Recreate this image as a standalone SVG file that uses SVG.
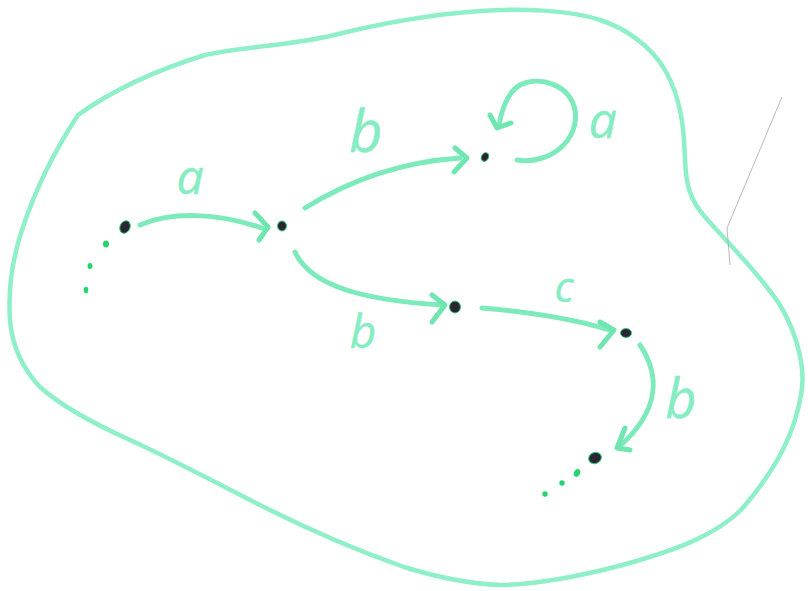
<svg xmlns="http://www.w3.org/2000/svg" width="808" height="591" viewBox="0 0 808 591">
<style>
.outline{fill:none;stroke:#8eefc8;stroke-width:4.5;stroke-linecap:round;stroke-linejoin:round}
.edge{fill:none;stroke:#7deabc;stroke-width:5;stroke-linecap:round;stroke-linejoin:round}
.head{fill:none;stroke:#6fe6b0;stroke-width:5;stroke-linecap:round;stroke-linejoin:round}
.lbl{font-family:"Open Sans","DejaVu Sans",sans-serif;font-style:italic;fill:#86ecc2;stroke:#86ecc2;stroke-width:0.4;text-anchor:middle}
.node{fill:#2b2433;stroke:#38c978;stroke-width:1}
.dot{fill:#26d46f}
</style>
<rect width="808" height="591" fill="#ffffff"/>
<path class="outline" d="M78,115 C110,92 150,72 205,55 C240,47 285,46 330,36 C370,26 420,15 480,11 C520,8 570,10 600,20 C625,28 650,45 665,70 C682,100 684,130 685,160 C686,185 690,200 705,217 C730,245 760,275 780,305 C798,335 806,370 801,395 C795,430 780,465 741,510 C715,535 680,548 640,560 C600,572 540,585 500,585 C470,584 440,578 404,567 C370,555 320,535 270,510 C230,490 170,458 130,440 C90,422 60,405 40,387 C22,368 12,345 10,320 C8,290 12,260 22,230 C35,190 55,150 78,115 Z"/>
<path d="M782,97 L727,228 L730,265" fill="none" stroke="#a8a8a8" stroke-width="0.8"/>
<g id="connectors">
  <g id="e-a1"><path class="edge" d="M140,225 C170,212 215,212 262,228"/><path class="head" d="M255,213 L268,227 L259,240"/></g>
  <g id="e-b-up"><path class="edge" d="M305,208 C350,180 400,162 460,158"/><path class="head" d="M455,148 L467,158 L454,172"/></g>
  <g id="e-loop"><path class="edge" d="M517,160 C550,165 580,140 575,110 C570,85 540,75 520,85 C508,92 502,108 499,125"/><path class="head" d="M490,115 L497,128 L511,123"/></g>
  <g id="e-b-low"><path class="edge" d="M295,252 C310,285 360,300 442,305"/><path class="head" d="M432,295 L445,305 L432,322"/></g>
  <g id="e-c"><path class="edge" d="M482,308 C530,312 570,318 610,330"/><path class="head" d="M600,322 L614,330 L600,347"/></g>
  <g id="e-b-down"><path class="edge" d="M640,345 C660,375 660,410 620,446"/><path class="head" d="M625,428 L617,448 L630,450"/></g>
</g>
<g id="labels">
  <text class="lbl" x="190" y="194" font-size="48">a</text>
  <text class="lbl" x="366" y="152" font-size="58">b</text>
  <text class="lbl" x="603" y="138" font-size="50">a</text>
  <text class="lbl" x="363" y="348" font-size="46">b</text>
  <text class="lbl" x="564" y="302" font-size="42">c</text>
  <text class="lbl" x="681" y="418" font-size="54">b</text>
</g>
<g id="n1"><ellipse class="node" cx="125" cy="227" rx="5" ry="6.5" transform="rotate(25 125 227)"/><ellipse class="dot" cx="106" cy="244" rx="3" ry="3.5"/><ellipse class="dot" cx="90" cy="266" rx="2.5" ry="3"/><ellipse class="dot" cx="86" cy="290" rx="2.3" ry="3.2"/></g>
<g id="n2"><ellipse class="node" cx="282" cy="226" rx="4.5" ry="5"/></g>
<g id="n3"><ellipse class="node" cx="485" cy="157" rx="3.5" ry="4.5" transform="rotate(30 485 157)"/></g>
<g id="n4"><ellipse class="node" cx="455" cy="307" rx="5.5" ry="6"/></g>
<g id="n5"><ellipse class="node" cx="626" cy="333" rx="5.5" ry="4.5"/></g>
<g id="n6"><ellipse class="node" cx="595" cy="458" rx="6.5" ry="5.5" transform="rotate(-20 595 458)"/><ellipse class="dot" cx="577" cy="473" rx="3" ry="4" transform="rotate(30 577 473)"/><ellipse class="dot" cx="562" cy="483" rx="2.7" ry="2.7"/><ellipse class="dot" cx="545" cy="494" rx="2.7" ry="2.7"/></g>
</svg>
